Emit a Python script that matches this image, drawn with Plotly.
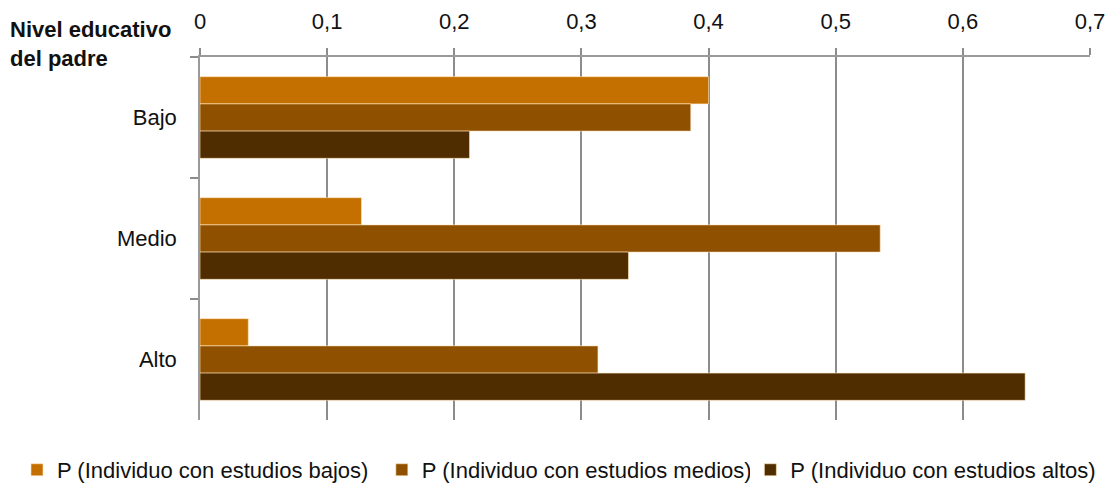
import plotly.graph_objs as go

## datos
niveles = ["Bajo", "Medio", "Alto"]
series = ["P (Individuo con estudios bajos)",
          "P (Individuo con estudios medios)",
          "P (Individuo con estudios altos)"]
est_bajos = [0.400, 0.127, 0.038]
est_medios = [0.386, 0.535, 0.313]
est_altos = [0.212, 0.337, 0.649]
colores = ["#C47000", "#8F5000", "#4F2D00"]

fuente = "Liberation Sans, Arial"
leyendas = ["legend", "legend2", "legend3"]
pos_ley = [0.0153, 0.344, 0.676]

fig = go.Figure()
for nombre, vals, col, ley in zip(series, [est_bajos, est_medios, est_altos], colores, leyendas):
    fig.add_trace(go.Bar(
        y=niveles, x=vals, name=nombre, orientation="h", legend=ley, showlegend=True,
        marker=dict(color=col, line=dict(color="rgba(255,230,190,0.6)", width=1))))

ley_cfg = {}
for ley, px_ in zip(leyendas, pos_ley):
    ley_cfg[ley] = dict(orientation="h", xref="container", x=px_, xanchor="left",
                        yref="container", y=0.027, yanchor="middle",
                        font=dict(size=22), itemwidth=30)

fig.update_layout(
    width=1110, height=483,
    showlegend=True,
    barmode="group", bargap=0.325, bargroupgap=0,
    separators=",.",
    plot_bgcolor="white", paper_bgcolor="white",
    font=dict(family=fuente, size=22, color="#111"),
    margin=dict(l=200, r=20, t=57, b=63, autoexpand=False),
    xaxis=dict(side="top", range=[0, 0.7], dtick=0.1, showgrid=True,
               gridcolor="#8c8c8c", gridwidth=1.5, showline=True,
               linecolor="#9a9a9a", linewidth=1.5, ticks="outside", ticklen=7,
               tickcolor="#8c8c8c", tickwidth=1.5, zeroline=False,
               ticklabelstandoff=10, automargin=False),
    yaxis=dict(autorange="reversed", showline=True, linecolor="#9a9a9a",
               linewidth=1.5, ticks="outside", tickson="boundaries", ticklen=8,
               tickcolor="#8c8c8c", tickwidth=1.5, ticklabelstandoff=17,
               showgrid=False, automargin=False),
    **ley_cfg,
)

fig.add_annotation(text="<b>Nivel educativo<br>del padre</b>", xref="paper", yref="paper",
                   x=-0.216, y=1.115, xanchor="left", yanchor="top", showarrow=False,
                   align="left", font=dict(size=22, color="#111"))

fig.write_html("out.html", config={"displayModeBar": False},
               post_script="document.body.style.margin='0';")
